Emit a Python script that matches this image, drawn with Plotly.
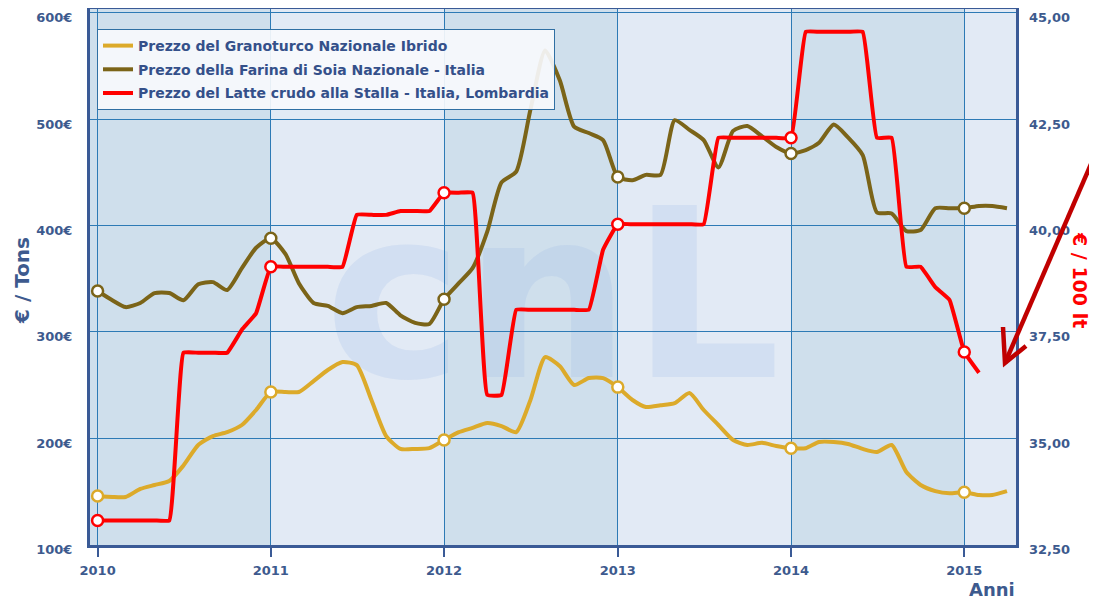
import plotly.graph_objects as go
import pandas as pd

# Monthly observations, Jan 2010 onward
months = pd.date_range("2010-01-01", periods=64, freq="MS")

corn_label = "Prezzo del Granoturco Nazionale Ibrido"
soy_label = "Prezzo della Farina di Soia Nazionale - Italia"
milk_label = "Prezzo del Latte crudo alla Stalla - Italia, Lombardia"

corn = [145.7, 144.8, 144.8, 152.4, 156.1, 159.8, 174.5, 193.7, 202.1, 205.8, 212.5, 226.6,
        243.5, 243.5, 243.5, 253.8, 264.2, 271.7, 268.8, 236.0, 202.1, 190.0, 190.0, 190.7,
        198.4, 205.8, 209.8, 214.3, 211.5, 205.8, 236.0, 276.3, 267.7, 250.1, 256.6, 256.6,
        248.1, 236.0, 229.4, 231.0, 233.0, 242.5, 226.6, 212.5, 198.4, 193.7, 195.7, 192.7,
        190.7, 190.7, 196.5, 196.5, 194.7, 190.0, 187.1, 193.7, 168.3, 156.1, 150.4, 148.3,
        149.3, 146.7, 146.7, 150.4]

soy = [338.4, 329.7, 323.3, 327.2, 336.5, 336.5, 329.7, 344.8, 346.8, 339.4, 359.9, 379.1,
       388.1, 373.0, 345.8, 327.2, 324.4, 317.6, 323.3, 324.4, 327.2, 315.6, 308.5, 307.5,
       330.7, 345.8, 359.9, 394.2, 440.5, 450.6, 509.0, 564.4, 536.2, 492.9, 486.9, 480.3,
       445.6, 442.5, 447.6, 447.6, 499.0, 489.9, 480.3, 454.6, 488.9, 493.5, 483.8, 473.8,
       467.7, 470.8, 477.8, 494.9, 482.8, 466.2, 412.3, 411.3, 394.8, 395.8, 416.3, 416.3,
       416.3, 418.4, 418.4, 416.3]

milk = [33.07, 33.07, 33.07, 33.07, 33.07, 33.07, 37.01, 37.01, 37.01, 37.01, 37.55, 37.94,
        39.03, 39.03, 39.03, 39.03, 39.03, 39.03, 40.25, 40.25, 40.25, 40.34, 40.34, 40.34,
        40.77, 40.77, 40.77, 36.02, 36.02, 38.02, 38.02, 38.02, 38.02, 38.02, 38.02, 39.43,
        40.03, 40.03, 40.03, 40.03, 40.03, 40.03, 40.03, 42.06, 42.06, 42.06, 42.06, 42.06,
        42.06, 44.55, 44.55, 44.55, 44.55, 44.55, 42.06, 42.06, 39.03, 39.03, 38.55, 38.25,
        37.03, 36.54]

year_ticks = ["2010-01-01", "2011-01-01", "2012-01-01", "2013-01-01", "2014-01-01", "2015-01-01"]
year_labels = ["2010", "2011", "2012", "2013", "2014", "2015"]
left_ticks = [100, 200, 300, 400, 500, 600]
left_labels = ["100€", "200€", "300€", "400€", "500€", "600€"]
right_ticks = [32.5, 35, 37.5, 40, 42.5, 45]
right_labels = ["32,50", "35,00", "37,50", "40,00", "42,50", "45,00"]

C_CORN = "#dcaa2a"
C_SOY = "#7b6418"
C_MILK = "#ff0000"
AX = "#3a5a96"
TXT = "#3d5a8e"
FONT = "DejaVu Sans"

fig = go.Figure()

series = [
    (corn_label, months[:len(corn)], corn, C_CORN, "y", 0.6),
    (soy_label, months[:len(soy)], soy, C_SOY, "y", 0.6),
    (milk_label, months[:len(milk)], milk, C_MILK, "y2", 0.3),
]
for i, (name, xs, ys, col, yax, sm) in enumerate(series):
    fig.add_trace(go.Scatter(
        x=xs, y=ys, name=name, mode="lines", yaxis=yax,
        line=dict(color=col, width=4, shape="spline", smoothing=sm),
        legendgroup=f"g{i}", hoverinfo="skip"))
for i, (name, xs, ys, col, yax, sm) in enumerate(series):
    fig.add_trace(go.Scatter(
        x=list(xs[::12]), y=list(ys[::12]), mode="markers", yaxis=yax, showlegend=False,
        marker=dict(size=11, color="white", line=dict(color=col, width=2.5)),
        hoverinfo="skip"))

# The page body adds an 8px offset; the figure is sized to the remaining window.
OFF = 8
W, H = 1097 - OFF, 600 - OFF
# Plot area in page pixels: x 90..1016, y 9..545
L, R, T, B = 90, 1016, 9, 545
def px(x):
    return (x - L) / (R - L)
def py(y):
    return 1 - (y - T) / (B - T)

shapes = []
band_edges = [("2009-12-16", "2011-01-01"), ("2012-01-01", "2013-01-01"), ("2014-01-01", "2015-01-01")]
for a, b in band_edges:
    shapes.append(dict(type="rect", xref="x", yref="paper", x0=a, x1=b, y0=0, y1=1,
                       fillcolor="#cfdfec", line=dict(width=0), layer="below"))
# faint watermark logo
shapes.append(dict(type="rect", xref="paper", yref="paper", x0=px(325), x1=px(780), y0=py(372), y1=py(185),
                   line=dict(width=0), fillcolor="rgba(0,0,0,0)", layer="below",
                   label=dict(text="cnL", textposition="middle center",
                              font=dict(family=FONT, size=235, color="rgba(150,182,228,0.2)", weight="bold"))))
# red arrow
shapes.append(dict(type="path", xref="paper", yref="paper",
                   path=f"M {px(1104)} {py(134)} L {px(1005)} {py(363)}",
                   line=dict(color="#c00000", width=4.5), layer="above"))
shapes.append(dict(type="path", xref="paper", yref="paper",
                   path=f"M {px(1003)} {py(327)} L {px(1005)} {py(363)} L {px(1026)} {py(346)}",
                   line=dict(color="#c00000", width=4.5), layer="above"))

annotations = [
    dict(text="€ / Tons", xref="paper", yref="paper", x=px(22), y=py(281), textangle=-90,
         xanchor="center", yanchor="middle",
         showarrow=False, font=dict(family=FONT, size=20, color=TXT, weight="bold")),
    dict(text="€ / 100 lt", xref="paper", yref="paper", x=px(1080), y=py(280), textangle=90,
         xanchor="center", yanchor="middle",
         showarrow=False, font=dict(family=FONT, size=19, color="#ff0000", weight="bold")),
    dict(text="Anni", xref="paper", yref="paper", x=px(992), y=py(589),
         xanchor="center", yanchor="middle",
         showarrow=False, font=dict(family=FONT, size=18, color=TXT, weight="bold")),
]

fig.update_layout(
    width=W, height=H,
    margin=dict(l=L - OFF, r=W - (R - OFF), t=T - OFF, b=H - (B - OFF), autoexpand=False),
    paper_bgcolor="white", plot_bgcolor="#e2eaf5",
    showlegend=True,
    legend=dict(x=px(97), y=py(29), xanchor="left", yanchor="top",
                bgcolor="rgba(247,249,252,0.92)", bordercolor="#2f6fa3", borderwidth=1,
                font=dict(family=FONT, size=14, color="#34508a", weight="bold"),
                traceorder="grouped", tracegroupgap=2.5, itemwidth=30),
    xaxis=dict(type="date", range=["2009-12-16", "2015-04-20"], automargin=False,
               tickvals=year_ticks, ticktext=year_labels,
               ticks="outside", ticklen=9, tickwidth=1.5, tickcolor=AX,
               ticklabelstandoff=2,
               showgrid=True, gridcolor="#2d7ab5", gridwidth=1.4,
               showline=True, linecolor=AX, linewidth=3, mirror=True, zeroline=False,
               tickfont=dict(family=FONT, size=13, color=TXT, weight="bold")),
    yaxis=dict(range=[99.7, 603.5], tickvals=left_ticks, ticktext=left_labels, automargin=False,
               showgrid=True, gridcolor="#2d7ab5", gridwidth=1.4,
               showline=True, linecolor=AX, linewidth=3, mirror=True, zeroline=False,
               ticks="", ticklabelstandoff=12, ticklabelshift=5,
               tickfont=dict(family=FONT, size=13, color=TXT, weight="bold")),
    yaxis2=dict(range=[32.4925, 45.0875], overlaying="y", side="right", automargin=False,
                tickvals=right_ticks, ticktext=right_labels,
                showgrid=False, showline=False, zeroline=False,
                ticks="", ticklabelstandoff=12, ticklabelshift=5,
                tickfont=dict(family=FONT, size=13, color=TXT, weight="bold")),
    shapes=shapes, annotations=annotations,
)

fig.write_html("out.html")
